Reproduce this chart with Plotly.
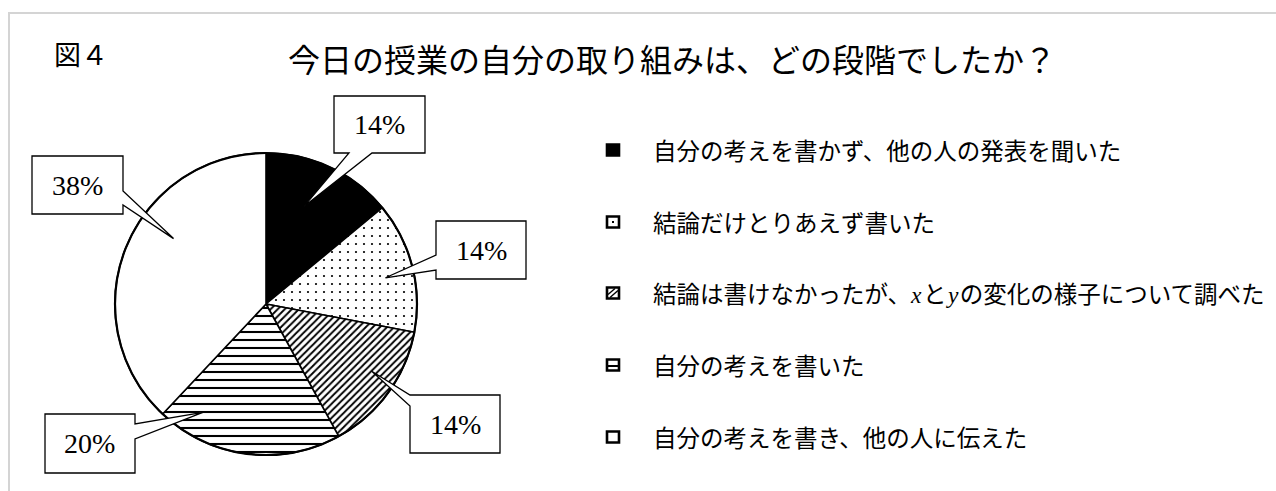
import math
import plotly.graph_objects as go

# ---- data ----
XY = "<span style='font-family:Liberation Serif'><i>{}</i></span>"
categories = [
    "自分の考えを書かず、他の人の発表を聞いた",
    "結論だけとりあえず書いた",
    "結論は書けなかったが、" + XY.format("x") + "\u200aと\u200a" + XY.format("y") + "\u200aの変化の様子について調べた",
    "自分の考えを書いた",
    "自分の考えを書き、他の人に伝えた",
]
percentages = [14, 14, 14, 20, 38]
value_labels = ["14%", "14%", "14%", "20%", "38%"]

# ---- canvas / layout constants (pixels) ----
W, H = 1276, 491
PIE_CX, PIE_CY, PIE_R = 266, 304, 151

fills = ["black", "white", "white", "white", "white"]
patterns = ["", ".", "/", "-", ""]
pat_size = [8, 8, 5, 8, 8]
pat_solid = [0.3, 0.06, 0.38, 0.26, 0.3]

# callout boxes: (x0, y0, x1, y1), side the pointer leaves from, gap along that side
boxes = [
    ((334, 96, 425, 153), "bottom", (349, 372)),
    ((436, 221, 526, 279), "left", (255, 270)),
    ((410, 395, 500, 453), "left", (395, 406)),
    ((45, 414, 135, 473), "right", (424, 439)),
    ((32, 156, 123, 214), "right", (191, 205)),
]
# where inside each slice the pointer ends (fraction of slice sweep, fraction of radius)
tip_pos = [(0.42, 0.69), (0.54, 0.81), (0.43, 0.83), (0.82, 0.83), (0.60, 0.75)]

legend_x = 607
legend_y = [150, 222, 293, 365, 437]
ICON_W, ICON_H = 12, 11


def px(x):
    return x / W


def py(y):
    return 1 - y / H


def path_px(points):
    return "M " + " L ".join(f"{px(x):.5f},{py(y):.5f}" for x, y in points) + " Z"


fig = go.Figure()

fig.add_trace(go.Pie(
    labels=categories,
    values=percentages,
    sort=False,
    direction="clockwise",
    rotation=0,
    textinfo="none",
    hoverinfo="label+percent",
    showlegend=False,
    domain=dict(x=[px(PIE_CX - PIE_R), px(PIE_CX + PIE_R)],
                y=[py(PIE_CY + PIE_R), py(PIE_CY - PIE_R)]),
    marker=dict(
        colors=fills,
        line=dict(color="black", width=1.6),
        pattern=dict(shape=patterns, fgcolor="black", bgcolor="white",
                     size=pat_size, solidity=pat_solid, fillmode="replace"),
    ),
))

shapes = []
annotations = []

# outer frame
shapes.append(dict(type="rect", xref="paper", yref="paper",
                   x0=px(9), x1=px(W + 20), y0=py(H + 20), y1=py(13),
                   line=dict(color="#d4d4d4", width=2), fillcolor="rgba(0,0,0,0)",
                   layer="below"))

# circle outline drawn a bit heavier than the slice borders
shapes.append(dict(type="circle", xref="paper", yref="paper",
                   x0=px(PIE_CX - PIE_R), x1=px(PIE_CX + PIE_R),
                   y0=py(PIE_CY + PIE_R), y1=py(PIE_CY - PIE_R),
                   line=dict(color="black", width=2.2), layer="above"))

# callouts with wedge pointers toward their slices
total = sum(percentages)
cum = 0
for i, v in enumerate(percentages):
    a0 = cum / total * 360
    a1 = (cum + v) / total * 360
    cum += v
    frac, rf = tip_pos[i]
    ang = math.radians(a0 + (a1 - a0) * frac)
    tx = PIE_CX + PIE_R * rf * math.sin(ang)
    ty = PIE_CY - PIE_R * rf * math.cos(ang)
    (x0, y0, x1, y1), side, (g0, g1) = boxes[i]
    if side == "bottom":
        pts = [(x0, y0), (x1, y0), (x1, y1), (g1, y1), (tx, ty), (g0, y1), (x0, y1)]
    elif side == "left":
        pts = [(x0, y0), (x1, y0), (x1, y1), (x0, y1), (x0, g1), (tx, ty), (x0, g0)]
    else:  # right
        pts = [(x0, y0), (x1, y0), (x1, g0), (tx, ty), (x1, g1), (x1, y1), (x0, y1)]
    shapes.append(dict(type="path", xref="paper", yref="paper", path=path_px(pts),
                       fillcolor="white", line=dict(color="black", width=1.3),
                       layer="above"))
    annotations.append(dict(x=px((x0 + x1) / 2), y=py((y0 + y1) / 2), xref="paper", yref="paper",
                            xanchor="center", yanchor="middle",
                            text=value_labels[i], showarrow=False,
                            font=dict(family="Liberation Serif", size=28, color="black")))

# legend: patterned icons + labels
for i, lab in enumerate(categories):
    cy = legend_y[i]
    x0, x1 = legend_x, legend_x + ICON_W
    y0, y1 = cy - ICON_H / 2, cy + ICON_H / 2
    cx = (x0 + x1) / 2
    shapes.append(dict(type="rect", xref="paper", yref="paper",
                       x0=px(x0), x1=px(x1), y0=py(y1), y1=py(y0),
                       fillcolor=fills[i], line=dict(color="black", width=2.6),
                       layer="above"))
    if patterns[i] == ".":
        shapes.append(dict(type="rect", xref="paper", yref="paper",
                           x0=px(cx - 1), x1=px(cx + 1), y0=py(cy + 1), y1=py(cy - 1),
                           fillcolor="black", line=dict(width=0), layer="above"))
    elif patterns[i] == "/":
        for off in (-3, 2):
            shapes.append(dict(type="line", xref="paper", yref="paper",
                               x0=px(x0 + 1 + max(0, off)), y0=py(y1 - 1 + min(0, off)),
                               x1=px(x1 - 1 + min(0, off)), y1=py(y0 + 1 + max(0, off)),
                               line=dict(color="black", width=1.4), layer="above"))
    elif patterns[i] == "-":
        shapes.append(dict(type="line", xref="paper", yref="paper",
                           x0=px(x0), x1=px(x1), y0=py(cy + 1), y1=py(cy + 1),
                           line=dict(color="black", width=2), layer="above"))
    annotations.append(dict(x=px(651), y=py(cy), xref="paper", yref="paper",
                            xanchor="left", yanchor="middle", text=lab, showarrow=False,
                            font=dict(family="Noto Sans CJK JP", size=23.5, color="black")))

# figure number and title
annotations.append(dict(x=px(52), y=py(54), xref="paper", yref="paper",
                        xanchor="left", yanchor="middle", text="図４", showarrow=False,
                        font=dict(family="Noto Sans CJK JP", size=27, color="black")))
annotations.append(dict(x=px(286), y=py(58), xref="paper", yref="paper",
                        xanchor="left", yanchor="middle",
                        text="今日の授業の自分の取り組みは、どの段階でしたか？", showarrow=False,
                        font=dict(family="Noto Sans CJK JP", size=32, color="black")))

fig.update_layout(
    width=W, height=H,
    margin=dict(l=0, r=0, t=0, b=0),
    paper_bgcolor="white",
    plot_bgcolor="white",
    shapes=shapes,
    annotations=annotations,
    showlegend=False,
)

fig.write_html("out.html")
